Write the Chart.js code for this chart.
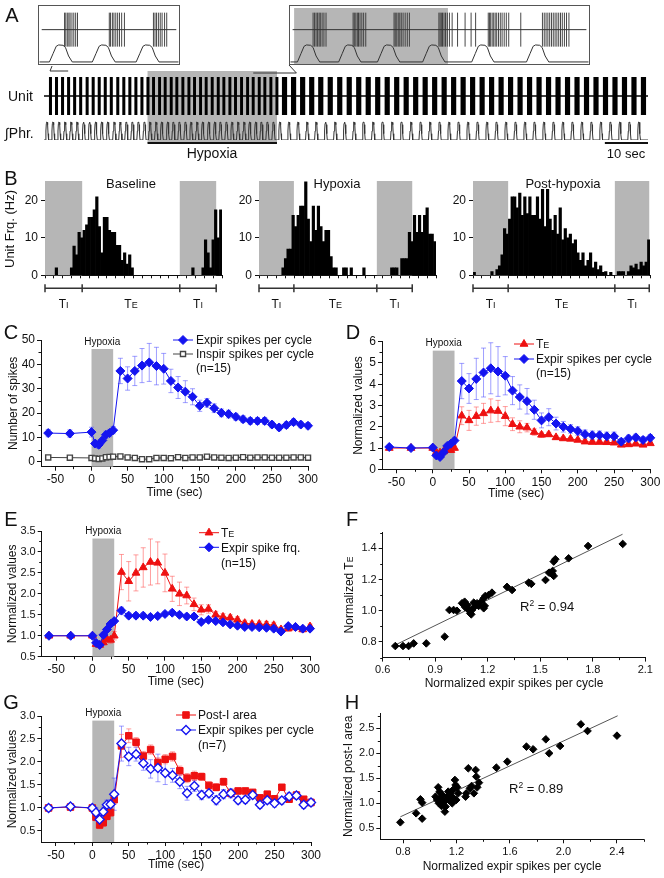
<!DOCTYPE html>
<html>
<head>
<meta charset="utf-8">
<title>Expiratory neuron response to hypoxia</title>
<script src="https://cdn.jsdelivr.net/npm/chart.js@4.4.1/dist/chart.umd.min.js"></script>
<style>
  html, body { margin: 0; padding: 0; background: #fff; }
  #fig { position: relative; width: 664px; height: 878px; overflow: hidden; background: #fff;
         font-family: "Liberation Sans", Arial, Helvetica, sans-serif; color: #111; }
  #fig canvas { position: absolute; }
  .lbl { position: absolute; white-space: nowrap; line-height: 1; }
  .sc { font-size: 0.72em; }
  .sup { font-size: 0.65em; vertical-align: 0.55em; }
</style>
</head>
<body>
<div id="fig"></div>
<script>
// ---- panels C, D, E, G: time points (sec), hypoxia 0-30 s ----
var times = [-60,-30,0,5,10,15,20,25,30,40,50,60,70,80,90,100,110,120,130,140,150,160,170,180,190,200,210,220,230,240,250,260,270,280,290,300];
var hypoxiaWin = [0, 30];
var timeTicks = [-50,0,50,100,150,200,250,300];

// C: spikes per cycle (n=15)
var expirSpikes    = [11.8,11.6,12.2,7.5,7.0,8.8,11.1,11.8,13.0,37.3,34.2,37.3,39.5,40.8,39.3,38.2,33.2,30.5,28.8,26.7,23.0,24.2,22.0,20.1,19.6,18.5,17.5,16.8,16.8,16.8,15.3,14.1,15.1,16.3,15.3,14.8];
var expirSpikesErr = [1.5,1.5,2,1.5,1.5,1.2,1.5,1.5,1.5,5.2,4.8,6,7,7.8,7.7,6.3,4.8,4.5,4.5,3.3,2.3,1.8,1.8,1.6,1.6,1.4,1.4,1.4,1.4,1.4,1.3,1.3,1.3,1.3,1.3,1.3];
var inspirSpikes   = [1.8,1.7,1.6,1.4,1.2,1.4,1.9,2.0,2.1,2.2,1.8,1.6,1.1,1.1,1.6,1.6,1.5,1.9,1.6,1.8,1.8,2.1,1.8,1.7,1.6,1.7,1.9,1.7,1.8,1.8,1.7,1.7,1.7,1.8,1.8,1.7];

// D, E: normalized TE, expir spikes per cycle, expir spike frequency (n=15)
var teNorm        = [1.0,1.0,1.0,0.8,0.78,0.84,0.92,0.9,1.0,2.52,2.3,2.5,2.63,2.76,2.74,2.5,2.12,2.0,1.96,1.75,1.62,1.64,1.5,1.45,1.43,1.38,1.3,1.28,1.28,1.27,1.25,1.15,1.17,1.2,1.15,1.22];
var teNormErr     = [0.05,0.05,0.05,0.06,0.06,0.06,0.06,0.08,0.1,0.42,0.47,0.43,0.47,0.55,0.5,0.45,0.3,0.28,0.2,0.15,0.12,0.1,0.08,0.08,0.07,0.07,0.07,0.07,0.07,0.07,0.07,0.06,0.06,0.06,0.06,0.06];
var spikesNorm    = [1.05,1.0,1.02,0.65,0.58,0.8,1.1,1.2,1.35,4.15,3.8,4.25,4.55,4.75,4.6,4.4,3.7,3.4,3.2,2.8,2.3,2.45,2.15,2.0,1.9,1.8,1.65,1.6,1.6,1.55,1.55,1.3,1.45,1.5,1.38,1.48];
var spikesNormErr = [0.08,0.05,0.1,0.1,0.1,0.1,0.1,0.12,0.15,0.83,0.7,0.97,1.15,1.2,1.17,0.9,0.66,0.57,0.6,0.45,0.35,0.4,0.3,0.25,0.2,0.2,0.2,0.2,0.2,0.2,0.2,0.15,0.15,0.15,0.15,0.15];
var spikeFrqNorm    = [1.0,1.0,1.0,0.83,0.78,1.02,1.15,1.28,1.35,1.6,1.48,1.48,1.48,1.45,1.47,1.52,1.55,1.5,1.46,1.46,1.33,1.38,1.35,1.32,1.27,1.24,1.21,1.21,1.2,1.19,1.17,1.1,1.23,1.21,1.17,1.17];
var spikeFrqNormErr = [0.03,0.03,0.03,0.05,0.05,0.05,0.05,0.05,0.05,0.08,0.06,0.06,0.06,0.06,0.06,0.06,0.06,0.06,0.06,0.06,0.05,0.05,0.05,0.05,0.05,0.05,0.05,0.05,0.05,0.05,0.05,0.05,0.05,0.05,0.05,0.05];

// G: post-I area and expir spikes per cycle (n=7)
var postIArea     = [1.0,1.02,1.0,0.8,0.63,0.68,0.82,0.9,1.18,2.35,2.57,2.43,2.13,2.27,1.99,2.06,2.12,1.81,1.65,1.7,1.68,1.49,1.45,1.57,1.32,1.37,1.37,1.34,1.22,1.3,1.2,1.45,1.19,1.28,1.19,1.12];
var postIAreaErr  = [0.05,0.05,0.05,0.08,0.08,0.08,0.08,0.08,0.1,0.25,0.15,0.1,0.1,0.1,0.1,0.1,0.1,0.1,0.1,0.1,0.08,0.08,0.08,0.08,0.08,0.06,0.06,0.06,0.06,0.06,0.06,0.06,0.06,0.06,0.06,0.06];
var spikesNorm7    = [1.0,1.03,1.0,0.9,0.75,0.92,1.07,1.08,1.3,2.4,2.12,2.17,1.97,1.85,1.87,1.76,1.71,1.57,1.32,1.48,1.28,1.32,1.17,1.3,1.32,1.17,1.18,1.28,1.07,1.17,1.1,1.16,1.25,1.27,1.07,1.12];
var spikesNorm7Err = [0.05,0.05,0.05,0.1,0.1,0.1,0.1,0.1,0.35,0.38,0.2,0.15,0.15,0.2,0.3,0.25,0.15,0.15,0.15,0.12,0.1,0.1,0.1,0.1,0.1,0.08,0.08,0.08,0.08,0.08,0.08,0.08,0.08,0.08,0.08,0.08];

// F: normalized TE vs normalized expir spikes per cycle
var fX = [0.672,0.716,0.748,0.777,0.849,0.954,0.981,1.005,1.024,1.053,1.068,1.082,1.087,1.1,1.106,1.11,1.125,1.139,1.148,1.163,1.177,1.186,1.177,1.183,1.205,1.224,1.072,1.095,1.12,1.31,1.339,1.434,1.449,1.53,1.55,1.567,1.577,1.571,1.577,1.586,1.662,1.773,1.971];
var fY = [0.774,0.774,0.774,0.791,0.791,0.834,1.005,1.005,1.0,1.048,1.058,1.037,1.016,0.984,0.977,1.005,1.026,1.048,1.031,1.058,1.08,1.095,1.016,1.031,1.101,1.116,1.022,1.001,1.052,1.153,1.133,1.18,1.172,1.197,1.244,1.236,1.223,1.255,1.315,1.33,1.336,1.415,1.428];
var fFitX = [0.67, 1.97], fFitY = [0.78, 1.49];

// H: normalized post-I area vs normalized expir spikes per cycle
var hX = [0.78,0.898,0.93,0.943,0.943,1.043,1.055,1.063,1.073,1.08,1.093,1.105,1.113,1.118,1.13,1.138,1.143,1.155,1.163,1.168,1.173,1.18,1.188,1.193,1.198,1.205,1.213,1.068,1.088,1.123,1.268,1.273,1.288,1.3,1.313,1.33,1.343,1.348,1.355,1.368,1.498,1.58,1.723,1.773,1.868,1.893,1.975,2.13,2.18,2.4];
var hY = [0.62,0.8,1.08,1.013,0.693,1.133,1.067,1.32,1.233,1.1,1.167,1.033,0.833,0.933,1.133,1.233,1.067,1.2,1.133,1.0,1.267,1.1,1.467,1.367,1.067,1.32,1.2,1.0,0.947,1.067,1.133,1.2,1.7,1.3,1.347,1.2,1.667,1.533,1.32,1.413,1.713,1.833,2.133,2.08,2.28,2.0,2.147,2.58,2.447,2.353];
var hFitX = [0.78, 2.405], hFitY = [0.73, 2.75];

// B: unit frequency histograms (Hz), 70 bins per respiratory cycle
var histBaseline = [
  0,0,0,0,2,0,0,0,0,0,
  2,7.8,5.5,11.5,10,12,13.5,15.5,15.5,17.5,
  21,13,6,15.5,15.5,12,11.5,11.5,8,8,
  4,6,3,5.5,2,0,0,0,0,0,
  0,0,0,0,0,0,0,0,0,0,
  0,0,0,0,0,0,0,0,2,0,
  0,0,2,9.5,6,2,9.5,17.5,10,17.5];
var histHypoxia = [
  0,0,0,0,0,0,0,0,0,2,
  4.5,7,7,16,13,16,18.5,18.5,25,15,
  9,18.5,12,18.5,13,9,12,12,5,2,
  2,0,0,2,2,0,2,0,0,0,
  0,2,0,0,0,0,0,0,0,0,
  0,0,2,2,2,0,4.5,4.5,4.5,11.5,
  9,16,11.5,16,11.5,16,18,11,11,9];
var histPost = [
  0.8,0,0,0,0,0,0,1,0,1.5,
  2.5,5.5,12.5,11,15,21,21,18,22,16,
  21,16.5,21,16,16,21,15,23,13,23,
  15,12,16,11,18,9.5,12.5,10,11,8.5,
  9.5,6,4,6,2.5,4,6,2,3.5,1.5,
  2.5,0.8,1,0,0.8,0,0,1,1,1,
  0,1,2.5,2,3,1.5,3.5,2.5,3.5,9.5];
// phase boundaries in bins: TI start, TE start, next TI start, next TI end
var phasesBaseline = [0, 14.7, 53.3, 67.7];
var phasesHypoxia  = [0, 13.8, 46.6, 60.6];
var phasesPost     = [0, 13.9, 56.1, 69.7];
var histTicks = [0,3.5,7,10.5,14,17.5,21,24.5,28,31.5,35,38.5,42,45.5,49,52.5,56,59.5,63,66.5,70];

// A: raw traces (sec), phrenic burst peak times
var phrPeaks = [0.7,2.1,3.5,4.9,6.3,7.7,9.2,10.6,12.0,13.4,14.8,16.3,17.7,19.1,20.5,21.9,23.3,
  24.6,26.0,27.3,28.7,30.0,31.4,32.8,34.1,35.5,36.8,38.2,39.6,40.9,42.3,43.6,45.0,46.4,47.7,49.1,50.4,51.8,53.2,
  54.7,56.8,58.9,61.0,63.1,65.3,67.5,69.7,71.9,74.1,76.3,78.5,80.7,82.9,85.1,87.3,89.5,91.7,93.9,96.1,98.3,
  100.5,102.7,104.9,107.1,109.3,111.5,113.7,115.9,118.1,120.3,122.5,124.7,126.9,129.1,131.3,133.5,135.7,137.9];
var phaseEnds = [24, 54, 140];       // pre, hypoxia, post
var burstLen  = [0.7, 0.68, 1.2];    // unit burst length per phase (s)
var traceHypoxia = [24, 54];
var traceScaleBar = [130, 140];
var insetLeftWin = [1.4, 5.6], insetRightWin = [48.5, 58.5];
var phrShape = [[-0.38,0],[-0.26,0.5],[-0.16,0.92],[-0.08,1],[0.06,0.98],[0.14,0.85],[0.24,0.35],[0.36,0]];

var insetLeftPeaks = [0.75, 2.14, 3.56];
var insetLeftSpikes = [0.86,0.9,0.95,1.0,1.04,1.1,1.16,1.22,1.28, 2.31,2.35,2.41,2.46,2.52,2.58,2.64,2.71,2.8, 3.74,3.79,3.84,3.9,3.96,4.02,4.1,4.17];
var insetRightPeaks = [0.66, 2.03, 3.32, 4.82, 6.45, 8.27];
var insetRightSpikes = [0.8,0.85,0.9,0.95,1.0,1.04,1.1,1.16,1.23, 2.13,2.17,2.22,2.27,2.31,2.36,2.42,2.48,2.55,
  3.49,3.53,3.58,3.63,3.68,3.73,3.79,3.86,3.93,4.0, 4.98,5.02,5.06,5.1,5.15,5.2,5.26,5.33,5.42,
  5.6,5.85,6.05,6.2, 6.62,6.66,6.7,6.75,6.8,6.85,6.9,6.96,7.02,7.08,7.15,7.22,7.3, 7.7,
  8.42,8.48,8.54,8.6,8.66,8.72,8.78,8.84,8.9,8.96,9.02,9.08,9.15,9.22,9.3];
var insetRightHypoxia = [0.17, 5.28];

// ---- setup ----
var FONT = '"Liberation Sans", Arial, Helvetica, sans-serif';
var BLUE = '#1414f0', BLUE_ERR = 'rgba(80,80,255,0.55)';
var RED = '#ee1111', RED_ERR = 'rgba(255,80,80,0.55)';
var GRAY = '#b6b6b6';

Chart.defaults.font.family = FONT;
Chart.defaults.font.size = 12;
Chart.defaults.color = '#111';
Chart.defaults.animation = false;
Chart.defaults.responsive = false;
Chart.defaults.maintainAspectRatio = false;
Chart.defaults.devicePixelRatio = 1;
Chart.defaults.events = [];
Chart.defaults.plugins.legend.display = false;
Chart.defaults.plugins.tooltip.enabled = false;

var fig = document.getElementById('fig');

function addCanvas(id, box) {
  var c = document.createElement('canvas');
  c.id = id; c.width = box[2]; c.height = box[3];
  c.style.left = box[0] + 'px'; c.style.top = box[1] + 'px';
  fig.appendChild(c);
  return c;
}

function label(html, x, y, size, align, rotate) {
  var d = document.createElement('div');
  d.className = 'lbl';
  d.innerHTML = html;
  d.style.left = x + 'px'; d.style.top = y + 'px'; d.style.fontSize = size + 'px';
  d.style.transform = 'translate(' + (align === 'left' ? '0' : '-50%') + ',-50%)' + (rotate ? ' rotate(-90deg)' : '');
  fig.appendChild(d);
}

function marker(ctx, style, x, y, r) {
  ctx.beginPath();
  if (style === 'rectRot') {
    ctx.moveTo(x, y - r); ctx.lineTo(x + r, y); ctx.lineTo(x, y + r); ctx.lineTo(x - r, y);
  } else if (style === 'triangle') {
    for (var k = 0; k < 3; k++) {
      var a = k * 2 * Math.PI / 3;
      ctx[k ? 'lineTo' : 'moveTo'](x + Math.sin(a) * r, y - Math.cos(a) * r);
    }
  } else {
    var s = r * Math.SQRT1_2;
    ctx.rect(x - s, y - s, 2 * s, 2 * s);
  }
  ctx.closePath(); ctx.fill(); ctx.stroke();
}

// text with a small-capital suffix (TE, TI)
function scText(ctx, main, sc, x, y, size, align) {
  var small = Math.round(size * 0.74);
  ctx.font = size + 'px ' + FONT;
  var w1 = ctx.measureText(main).width;
  ctx.font = small + 'px ' + FONT;
  var w2 = sc ? ctx.measureText(sc).width : 0;
  var sx = align === 'center' ? x - (w1 + w2) / 2 : x;
  var base = y + size * 0.36;
  ctx.textAlign = 'left'; ctx.textBaseline = 'alphabetic';
  ctx.font = size + 'px ' + FONT; ctx.fillText(main, sx, base);
  if (sc) { ctx.font = small + 'px ' + FONT; ctx.fillText(sc, sx + w1, base); }
}

// ---- plugins (settings captured in closures) ----
function hypoxiaBox(top) {
  return {
    id: 'hypoxiaBox',
    beforeDatasetsDraw: function (chart) {
      var ctx = chart.ctx, xs = chart.scales.x, ys = chart.scales.y, ar = chart.chartArea;
      var x0 = xs.getPixelForValue(hypoxiaWin[0]), x1 = xs.getPixelForValue(hypoxiaWin[1]);
      var yT = ys.getPixelForValue(top);
      ctx.save();
      ctx.fillStyle = GRAY;
      ctx.fillRect(x0, yT, x1 - x0, ar.bottom - yT);
      ctx.fillStyle = '#111';
      ctx.font = '10px ' + FONT; ctx.textAlign = 'center'; ctx.textBaseline = 'middle';
      ctx.fillText('Hypoxia', (x0 + x1) / 2, yT - 7);
      ctx.restore();
    }
  };
}

var errorBars = {
  id: 'errorBars',
  beforeDatasetsDraw: function (chart) {
    var ctx = chart.ctx, ys = chart.scales.y;
    chart.data.datasets.forEach(function (ds, di) {
      if (!ds.errors) return;
      var meta = chart.getDatasetMeta(di);
      ctx.save();
      ctx.strokeStyle = ds.errorColor; ctx.lineWidth = 1;
      meta.data.forEach(function (pt, i) {
        var v = ds.data[i].y, e = ds.errors[i];
        var yt = ys.getPixelForValue(v + e), yb = ys.getPixelForValue(v - e);
        ctx.beginPath();
        ctx.moveTo(pt.x, yt); ctx.lineTo(pt.x, yb);
        ctx.moveTo(pt.x - 2.5, yt); ctx.lineTo(pt.x + 2.5, yt);
        ctx.moveTo(pt.x - 2.5, yb); ctx.lineTo(pt.x + 2.5, yb);
        ctx.stroke();
      });
      ctx.restore();
    });
  }
};

function legendBox(cfg) {
  return {
    id: 'legendBox',
    afterDatasetsDraw: function (chart) {
      var ctx = chart.ctx;
      ctx.save();
      cfg.items.forEach(function (it, i) {
        var y = cfg.rows[i];
        if (it.color) {
          ctx.strokeStyle = it.color; ctx.lineWidth = 1;
          ctx.beginPath(); ctx.moveTo(cfg.x0, y); ctx.lineTo(cfg.x1, y); ctx.stroke();
          ctx.fillStyle = it.fill ? it.fill : it.color;
          ctx.lineWidth = it.fill ? 1.4 : 1;
          marker(ctx, it.style, (cfg.x0 + cfg.x1) / 2, y, it.r);
        }
        ctx.fillStyle = '#111';
        scText(ctx, it.text, it.sc, cfg.tx, y, 12, 'left');
      });
      ctx.restore();
    }
  };
}

var minorTicks = {
  id: 'minorTicks',
  afterDraw: function (chart) {
    var ctx = chart.ctx;
    ctx.save(); ctx.strokeStyle = '#111'; ctx.lineWidth = 1;
    ['x', 'y'].forEach(function (k) {
      var s = chart.scales[k], t = s.ticks;
      if (t.length < 2) return;
      var step = t[1].value - t[0].value;
      for (var v = t[0].value - step / 2; v <= s.max + 1e-9; v += step) {
        if (v < s.min - 1e-9) continue;
        var p = Math.round(s.getPixelForValue(v)) + 0.5;
        ctx.beginPath();
        if (k === 'x') { ctx.moveTo(p, s.top); ctx.lineTo(p, s.top + 2.5); }
        else { ctx.moveTo(s.right - 2.5, p); ctx.lineTo(s.right, p); }
        ctx.stroke();
      }
    });
    ctx.restore();
  }
};

function axis(min, max, ticks, dec, size, horizontal, title) {
  return {
    type: 'linear', min: min, max: max, position: horizontal ? 'bottom' : 'left',
    afterBuildTicks: function (s) { s.ticks = ticks.map(function (v) { return {value: v}; }); },
    afterFit: function (s) { if (horizontal) s.height = size; else s.width = size; },
    grid: {display: true, drawOnChartArea: false, drawTicks: true, tickLength: 4, color: '#111'},
    border: {display: true, color: '#111', width: 1},
    ticks: {padding: 2, color: '#111', font: {size: dec ? 11 : 12}, autoSkip: false, maxRotation: 0,
            callback: function (v) { return Number(v).toFixed(dec); }},
    title: {display: !!title, text: title || '', color: '#111', font: {size: 12}, padding: {top: 0, bottom: 2}}
  };
}

function series(vals, errs, color, errColor, style, r, fill) {
  return {
    data: times.map(function (t, i) { return {x: t, y: vals[i]}; }),
    errors: errs, errorColor: errColor, showLine: true, clip: false,
    borderColor: color, borderWidth: 1, backgroundColor: color,
    pointStyle: style, pointRadius: r, pointBackgroundColor: fill || color,
    pointBorderColor: color, pointBorderWidth: fill ? 1.4 : 1
  };
}

function timePanel(id, box, area, padLeft, yMin, yMax, yTicks, yDec, yTitle, hypTop, datasets, legend) {
  return new Chart(addCanvas(id, box), {
    type: 'scatter',
    data: {datasets: datasets},
    options: {
      layout: {padding: {left: padLeft, top: area[1] - box[1], right: box[0] + box[2] - area[2], bottom: 0}},
      scales: {
        x: axis(-70, 300, timeTicks, 0, box[1] + box[3] - area[3], true, 'Time (sec)'),
        y: axis(yMin, yMax, yTicks, yDec, area[0] - box[0] - padLeft, false, yTitle)
      }
    },
    plugins: [hypoxiaBox(hypTop), errorBars, legendBox(legend), minorTicks]
  });
}

function scatterPanel(id, box, area, padLeft, xr, xTicks, yr, yTicks, yTitle, xs, ys, fitX, fitY) {
  return new Chart(addCanvas(id, box), {
    type: 'scatter',
    data: {datasets: [
      {data: xs.map(function (x, i) { return {x: x, y: ys[i]}; }), pointStyle: 'rectRot', pointRadius: 3.8,
       backgroundColor: '#000', borderColor: '#000', pointBorderWidth: 1, clip: false},
      {data: fitX.map(function (x, i) { return {x: x, y: fitY[i]}; }), showLine: true, pointRadius: 0,
       borderColor: '#555', borderWidth: 1}
    ]},
    options: {
      layout: {padding: {left: padLeft, top: area[1] - box[1], right: box[0] + box[2] - area[2], bottom: 0}},
      scales: {
        x: axis(xr[0], xr[1], xTicks, 1, box[1] + box[3] - area[3], true, 'Normalized expir spikes per cycle'),
        y: axis(yr[0], yr[1], yTicks, 1, area[0] - box[0] - padLeft, false, yTitle)
      }
    },
    plugins: [minorTicks]
  });
}

// ---- panel A: raw traces ----
var unitLevel = 2.44;
var unitPts = [];
phrPeaks.forEach(function (t) {
  var k = 0;
  while (k < phaseEnds.length - 1 && t >= phaseEnds[k]) k++;
  var s = t + 0.45, e = s + burstLen[k];
  unitPts.push({x: s, y: unitLevel}, {x: e, y: unitLevel}, {x: e, y: null});
});
function phrTrace(peaks, x0, x1) {
  var pts = [{x: x0, y: 0}];
  peaks.forEach(function (t) { phrShape.forEach(function (p) { pts.push({x: t + p[0], y: p[1]}); }); });
  pts.push({x: x1, y: 0});
  return pts;
}

var traceMarks = {
  id: 'traceMarks',
  beforeDatasetsDraw: function (chart) {
    var ctx = chart.ctx, xs = chart.scales.x, ar = chart.chartArea;
    var x0 = xs.getPixelForValue(traceHypoxia[0]), x1 = xs.getPixelForValue(traceHypoxia[1]);
    ctx.save(); ctx.fillStyle = GRAY;
    ctx.fillRect(x0, ar.top - 6, x1 - x0, ar.bottom - ar.top + 9);
    ctx.restore();
  },
  afterDatasetsDraw: function (chart) {
    var ctx = chart.ctx, xs = chart.scales.x, ar = chart.chartArea;
    function seg(a, b, c, d) { ctx.beginPath(); ctx.moveTo(a, b); ctx.lineTo(c, d); ctx.stroke(); }
    var yb = ar.bottom + 3;
    ctx.save(); ctx.strokeStyle = '#111'; ctx.lineWidth = 2;
    seg(xs.getPixelForValue(traceHypoxia[0]), yb, xs.getPixelForValue(traceHypoxia[1]), yb);
    seg(xs.getPixelForValue(traceScaleBar[0]), yb, xs.getPixelForValue(traceScaleBar[1]), yb);
    ctx.lineWidth = 1; ctx.strokeStyle = '#333';
    var l0 = xs.getPixelForValue(insetLeftWin[0]), l1 = xs.getPixelForValue(insetLeftWin[1]);
    seg(l0, ar.top - 6, l1, ar.top - 6); seg(l0, ar.top - 6, l0 + 2, ar.top - 11);
    var r0 = xs.getPixelForValue(insetRightWin[0]), r1 = xs.getPixelForValue(insetRightWin[1]);
    seg(r0, ar.top - 4, r1, ar.top - 4); seg(r1, ar.top - 4, 289, ar.top - 12);
    ctx.restore();
  }
};

new Chart(addCanvas('traces', [0, 60, 664, 100]), {
  type: 'scatter',
  data: {datasets: [
    {data: unitPts, showLine: true, borderColor: '#000', borderWidth: 38, borderCapStyle: 'butt', pointRadius: 0, spanGaps: false},
    {data: [{x: 0, y: unitLevel}, {x: 140, y: unitLevel}], showLine: true, borderColor: '#000', borderWidth: 1.5, pointRadius: 0},
    {data: phrTrace(phrPeaks, 0, 140), showLine: true, borderColor: '#333', borderWidth: 1, pointRadius: 0}
  ]},
  options: {
    layout: {padding: {left: 44, right: 16, top: 17, bottom: 20}},
    scales: {x: {type: 'linear', display: false, min: 0, max: 140}, y: {display: false, min: 0, max: 3.5}}
  },
  plugins: [traceMarks]
});

function insetDecor(gray) {
  return {
    id: 'insetDecor',
    beforeDatasetsDraw: function (chart) {
      if (!gray) return;
      var ctx = chart.ctx, xs = chart.scales.x;
      var x0 = xs.getPixelForValue(gray[0]), x1 = xs.getPixelForValue(gray[1]);
      ctx.save(); ctx.fillStyle = GRAY; ctx.fillRect(x0, 3, x1 - x0, chart.height - 4); ctx.restore();
    },
    afterDraw: function (chart) {
      var ctx = chart.ctx;
      ctx.save(); ctx.strokeStyle = '#555'; ctx.lineWidth = 1;
      ctx.strokeRect(0.5, 0.5, chart.width - 1, chart.height - 1);
      ctx.restore();
    }
  };
}

function inset(id, box, xMax, peaks, spikes, gray) {
  var spk = [];
  spikes.forEach(function (t) { spk.push({x: t, y: 0.9}, {x: t, y: 2.9}, {x: t, y: null}); });
  return new Chart(addCanvas(id, box), {
    type: 'scatter',
    data: {datasets: [
      {data: spk, showLine: true, borderColor: '#333', borderWidth: 0.9, pointRadius: 0, spanGaps: false},
      {data: [{x: 0.12, y: 1.9}, {x: xMax - 0.12, y: 1.9}], showLine: true, borderColor: '#333', borderWidth: 1, pointRadius: 0},
      {data: phrTrace(peaks, 0.05, xMax - 0.05), showLine: true, borderColor: '#333', borderWidth: 1, pointRadius: 0}
    ]},
    options: {
      scales: {x: {type: 'linear', display: false, min: 0, max: xMax}, y: {display: false, min: -0.18, max: 3.35}}
    },
    plugins: [insetDecor(gray)]
  });
}
inset('insetL', [38, 5, 142, 60], 4.6, insetLeftPeaks, insetLeftSpikes, null);
inset('insetR', [289, 5, 301, 60], 10, insetRightPeaks, insetRightSpikes, insetRightHypoxia);

// ---- panel B: histograms ----
function histDecor(p) {
  return {
    id: 'histDecor',
    beforeDatasetsDraw: function (chart) {
      var ctx = chart.ctx, xs = chart.scales.x, ar = chart.chartArea;
      ctx.save(); ctx.fillStyle = GRAY;
      [[p[0], p[1]], [p[2], p[3]]].forEach(function (g) {
        var a = xs.getPixelForValue(g[0]), b = xs.getPixelForValue(g[1]);
        ctx.fillRect(a, ar.top, b - a, ar.bottom - ar.top);
      });
      ctx.restore();
    },
    afterDraw: function (chart) {
      var ctx = chart.ctx, xs = chart.scales.x, ar = chart.chartArea;
      var y = ar.bottom + 13;
      var px = p.map(function (v) { return xs.getPixelForValue(v); });
      ctx.save(); ctx.strokeStyle = '#333'; ctx.lineWidth = 1.5;
      ctx.beginPath(); ctx.moveTo(px[0], y); ctx.lineTo(px[3], y);
      px.forEach(function (x) { ctx.moveTo(x, y - 4); ctx.lineTo(x, y + 4); });
      ctx.stroke();
      ctx.fillStyle = '#111';
      scText(ctx, 'T', 'I', (px[0] + px[1]) / 2, y + 15, 12, 'center');
      scText(ctx, 'T', 'E', (px[1] + px[2]) / 2, y + 15, 12, 'center');
      scText(ctx, 'T', 'I', (px[2] + px[3]) / 2, y + 15, 12, 'center');
      ctx.restore();
    }
  };
}

function histChart(id, plotLeft, vals, phases) {
  return new Chart(addCanvas(id, [plotLeft - 33, 170, 213, 144]), {
    type: 'bar',
    data: {datasets: [{data: vals.map(function (v, i) { return {x: i + 0.5, y: v}; }),
      backgroundColor: '#000', borderWidth: 0, barPercentage: 1, categoryPercentage: 1}]},
    options: {
      layout: {padding: {left: 0, top: 11, right: 3, bottom: 0}},
      scales: {
        x: {type: 'linear', min: 0, max: 70, offset: false,
            afterBuildTicks: function (s) { s.ticks = histTicks.map(function (v) { return {value: v}; }); },
            afterFit: function (s) { s.height = 38.7; },
            ticks: {display: false},
            grid: {drawOnChartArea: false, tickLength: 3, color: '#111', offset: false},
            border: {color: '#111', width: 1}},
        y: {type: 'linear', min: 0, max: 25.2,
            afterBuildTicks: function (s) { s.ticks = [0, 10, 20].map(function (v) { return {value: v}; }); },
            afterFit: function (s) { s.width = 33; },
            ticks: {padding: 3, color: '#111', font: {size: 12}},
            grid: {drawOnChartArea: false, tickLength: 4, color: '#111'},
            border: {display: false}}
      }
    },
    plugins: [histDecor(phases)]
  });
}
histChart('histBase', 45, histBaseline, phasesBaseline);
histChart('histHyp', 259, histHypoxia, phasesHypoxia);
histChart('histPost', 473, histPost, phasesPost);

// ---- panels C-H ----
timePanel('panelC', [0, 330, 332, 172], [41, 340, 308, 466.7], 6, -2, 50, [0,10,20,30,40,50], 0,
  'Number of spikes', 46.3,
  [series(expirSpikes, expirSpikesErr, BLUE, BLUE_ERR, 'rectRot', 4.5),
   series(inspirSpikes, null, '#444', null, 'rect', 3.6, '#fff')],
  {x0: 173, x1: 193, tx: 196, rows: [10, 24, 38], items: [
    {text: 'Expir spikes per cycle', color: BLUE, style: 'rectRot', r: 4.5},
    {text: 'Inspir spikes per cycle', color: '#444', fill: '#fff', style: 'rect', r: 3.6},
    {text: '(n=15)'}]});

timePanel('panelD', [332, 330, 332, 173], [382, 341.7, 650.3, 469.3], 19.5, 0, 6, [0,1,2,3,4,5,6], 0,
  'Normalized values', 5.58,
  [series(spikesNorm, spikesNormErr, BLUE, BLUE_ERR, 'rectRot', 4.5),
   series(teNorm, teNormErr, RED, RED_ERR, 'triangle', 4.5)],
  {x0: 182, x1: 202, tx: 204, rows: [14, 29, 43], items: [
    {text: 'T', sc: 'E', color: RED, style: 'triangle', r: 4.5},
    {text: 'Expir spikes per cycle', color: BLUE, style: 'rectRot', r: 4.5},
    {text: '(n=15)'}]});

timePanel('panelE', [0, 520, 332, 171], [41.7, 531, 310, 656.7], 5, 0.5, 3.5, [0.5,1.0,1.5,2.0,2.5,3.0,3.5], 1,
  'Normalized values', 3.32,
  [series(spikeFrqNorm, spikeFrqNormErr, BLUE, BLUE_ERR, 'rectRot', 4.5),
   series(teNorm, teNormErr, RED, RED_ERR, 'triangle', 4.5)],
  {x0: 199, x1: 219, tx: 221, rows: [12.7, 27.3, 42.7], items: [
    {text: 'T', sc: 'E', color: RED, style: 'triangle', r: 4.5},
    {text: 'Expir spike frq.', color: BLUE, style: 'rectRot', r: 4.5},
    {text: '(n=15)'}]});

timePanel('panelG', [0, 700, 332, 174], [41.3, 716, 311, 842], 5, 0.26, 3.0, [0.5,1.0,1.5,2.0,2.5,3.0], 1,
  'Normalized values', 2.9,
  [series(spikesNorm7, spikesNorm7Err, BLUE, BLUE_ERR, 'rectRot', 4.5, '#fff'),
   series(postIArea, postIAreaErr, RED, RED_ERR, 'rect', 4.6)],
  {x0: 176, x1: 196, tx: 198, rows: [15, 30, 44.3], items: [
    {text: 'Post-I area', color: RED, style: 'rect', r: 4.6},
    {text: 'Expir spikes per cycle', color: BLUE, fill: '#fff', style: 'rectRot', r: 4.5},
    {text: '(n=7)'}]});

scatterPanel('panelF', [332, 520, 332, 173], [382.7, 532.7, 645.3, 657.6], 9.5,
  [0.6, 2.1], [0.6,0.9,1.2,1.5,1.8,2.1], [0.7, 1.5], [0.8,1.0,1.2,1.4], null, fX, fY, fFitX, fFitY);
scatterPanel('panelH', [332, 700, 332, 176], [380.3, 713.3, 643.7, 839.3], 9.5,
  [0.63, 2.6], [0.8,1.2,1.6,2.0,2.4], [0.28, 2.8], [0.5,1.0,1.5,2.0,2.5], 'Normalized post-I area', hX, hY, hFitX, hFitY);

// ---- free text ----
label('A', 12, 15, 20); label('B', 11, 178, 20);
label('C', 11, 332, 20); label('D', 353, 332, 20);
label('E', 11, 519, 20); label('F', 352, 519, 20);
label('G', 11, 702, 20); label('H', 352, 702, 20);
label('Unit', 8, 96, 14, 'left');
label('&int;Phr.', 5, 133, 14, 'left');
label('Hypoxia', 212, 153, 14);
label('10 sec', 626, 153, 13);
label('Baseline', 131, 183, 13);
label('Hypoxia', 337, 183, 13);
label('Post-hypoxia', 563, 183, 13);
label('Unit Frq. (Hz)', 9, 229, 13, null, true);
label('Normalized T<span class="sc">E</span>', 349, 595, 12, null, true);
label('R<span class="sup">2</span> = 0.94', 520, 606, 13, 'left');
label('R<span class="sup">2</span> = 0.89', 509, 788, 13, 'left');
</script>
</body>
</html>
